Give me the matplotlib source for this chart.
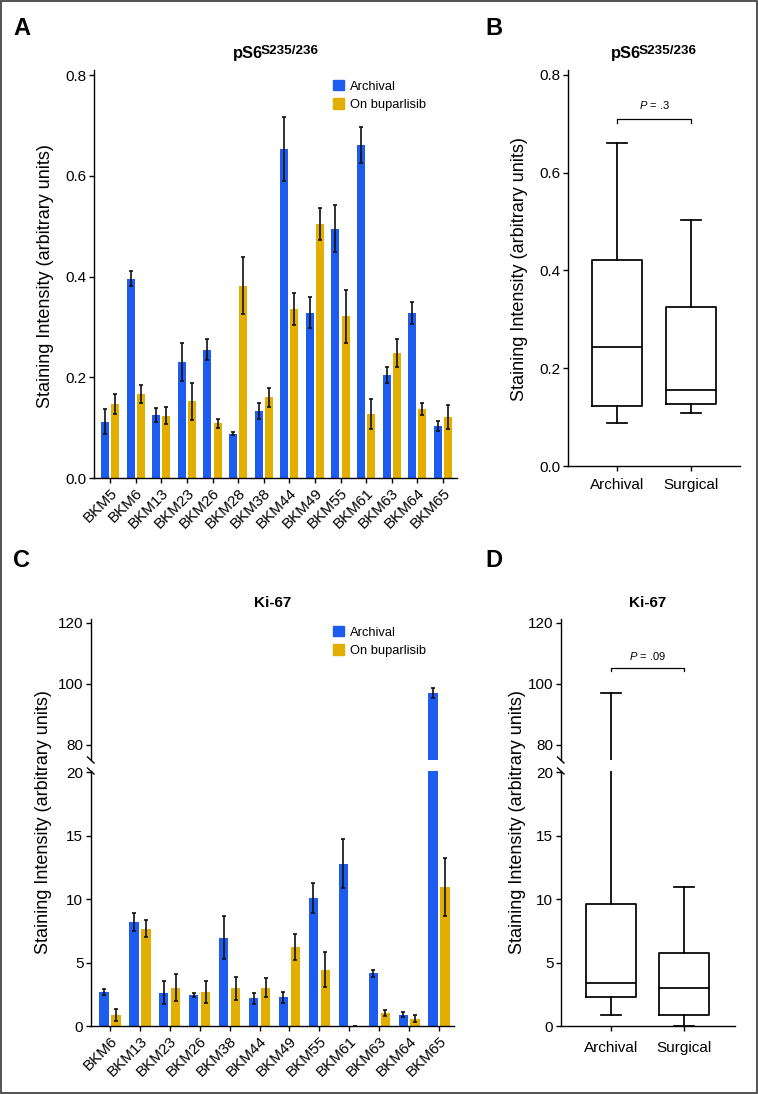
import numpy as np
import matplotlib
matplotlib.use("Agg")
import matplotlib.pyplot as plt
from matplotlib.lines import Line2D
from matplotlib.patches import Rectangle, Patch

plt.rcParams['font.family'] = ['Liberation Sans', 'DejaVu Sans']
plt.rcParams['mathtext.fontset'] = 'custom'
plt.rcParams['mathtext.rm'] = 'Liberation Sans'
plt.rcParams['mathtext.bf'] = 'Liberation Sans:bold'
plt.rcParams['mathtext.it'] = 'Liberation Sans:italic'

# ---------------- data ----------------
ps6_patients = ["BKM5", "BKM6", "BKM13", "BKM23", "BKM26", "BKM28", "BKM38",
                "BKM44", "BKM49", "BKM55", "BKM61", "BKM63", "BKM64", "BKM65"]
ps6_archival = [0.112, 0.396, 0.125, 0.230, 0.255, 0.088, 0.133,
                0.653, 0.328, 0.495, 0.661, 0.205, 0.327, 0.104]
ps6_archival_err = [0.024, 0.014, 0.014, 0.038, 0.020, 0.003, 0.015,
                    0.063, 0.031, 0.047, 0.036, 0.016, 0.022, 0.010]
ps6_bup = [0.147, 0.166, 0.124, 0.152, 0.109, 0.382, 0.160,
           0.336, 0.504, 0.321, 0.127, 0.248, 0.137, 0.121]
ps6_bup_err = [0.020, 0.018, 0.016, 0.037, 0.009, 0.056, 0.019,
               0.032, 0.032, 0.053, 0.030, 0.028, 0.012, 0.024]

ki_patients = ["BKM6", "BKM13", "BKM23", "BKM26", "BKM38", "BKM44",
               "BKM49", "BKM55", "BKM61", "BKM63", "BKM64", "BKM65"]
ki_archival = [2.68, 8.19, 2.62, 2.47, 6.96, 2.18, 2.26, 10.10, 12.78, 4.17, 0.89, 97.0]
ki_archival_err = [0.26, 0.70, 0.90, 0.15, 1.70, 0.42, 0.42, 1.20, 1.94, 0.27, 0.21, 1.5]
ki_bup = [0.84, 7.66, 3.02, 2.68, 2.97, 3.02, 6.22, 4.44, 0.0, 1.00, 0.58, 10.94]
ki_bup_err = [0.47, 0.68, 1.05, 0.84, 0.90, 0.76, 1.00, 1.36, 0.0, 0.23, 0.29, 2.30]

series_names = ["Archival", "On buparlisib"]
box_names = ["Archival", "Surgical"]
p_ps6 = ".3"
p_ki = ".09"

BLUE = "#1e5cf0"
GOLD = "#e2ae00"

W, H = 758, 1094
fig = plt.figure(figsize=(W / 100, H / 100), dpi=100)


def axes_px(left, top, right, bottom):
    return fig.add_axes([left / W, 1 - bottom / H, (right - left) / W, (bottom - top) / H])


def fpt(x, y):
    return x / W, 1 - y / H


TICK_FS = 11
LW = 1.0


def style(ax, bottom=True):
    for s in ["top", "right"]:
        ax.spines[s].set_visible(False)
    ax.spines["left"].set_linewidth(LW)
    ax.spines["bottom"].set_linewidth(LW)
    ax.tick_params(direction="out", length=3.5, width=LW, labelsize=TICK_FS, pad=2)
    if not bottom:
        ax.spines["bottom"].set_visible(False)
        ax.tick_params(axis="x", bottom=False, labelbottom=False)


def bars(ax, n, a, ae, b, be):
    x = np.arange(n)
    w = 0.31
    ax.bar(x - 0.2, a, w, color=BLUE, label=series_names[0], zorder=2)
    ax.bar(x + 0.2, b, w, color=GOLD, label=series_names[1], zorder=2)
    ax.errorbar(x - 0.2, a, yerr=ae, fmt="none", ecolor="#111111", elinewidth=1.2,
                capsize=1.6, capthick=1.2, zorder=3)
    ax.errorbar(x + 0.2, b, yerr=be, fmt="none", ecolor="#111111", elinewidth=1.2,
                capsize=1.6, capthick=1.2, zorder=3)


def box_stats(vals, label):
    v = np.asarray(vals, dtype=float)
    q1, med, q3 = np.percentile(v, [25, 50, 75], method="weibull")
    return dict(label=label, whislo=v.min(), q1=q1, med=med, q3=q3, whishi=v.max(), fliers=[])


def boxes(ax, stats):
    lp = dict(color="black", linewidth=1.25)
    ax.bxp(stats, positions=[1, 2], widths=0.68, capwidths=0.28, showfliers=False,
           boxprops=lp, medianprops=lp, whiskerprops=lp, capprops=lp)


def legend(ax, top_px):
    handles = [Patch(color=BLUE, label=series_names[0]), Patch(color=GOLD, label=series_names[1])]
    ax.legend(handles=handles, loc="upper left", bbox_to_anchor=fpt(333, top_px),
              bbox_transform=fig.transFigure, frameon=False, fontsize=9.3,
              handlelength=0.85, handleheight=0.85, handletextpad=0.45,
              labelspacing=0.45, borderpad=0, borderaxespad=0)


def ps6_title(ax, x_start):
    base = ax.text(*fpt(x_start, 58), "pS6", transform=fig.transFigure, ha="left",
                   va="baseline", fontsize=11.8, fontweight="bold")
    ax.annotate("S235/236", xy=(1, 0), xycoords=base, xytext=(-1.6, 2.6),
                textcoords="offset points", ha="left", va="bottom", fontsize=9.7,
                fontweight="bold", annotation_clip=False)


# ---------------- Panel A ----------------
axA = axes_px(94, 70, 457, 478)
bars(axA, len(ps6_patients), ps6_archival, ps6_archival_err, ps6_bup, ps6_bup_err)
axA.set_xlim(-0.63, 13.55)
axA.set_ylim(0, 0.81)
axA.set_yticks([0, 0.2, 0.4, 0.6, 0.8])
axA.set_yticklabels(["0.0", "0.2", "0.4", "0.6", "0.8"])
axA.set_xticks(np.arange(len(ps6_patients)))
axA.set_xticklabels(ps6_patients, rotation=45, ha="right", va="top", rotation_mode="anchor")
style(axA)
legend(axA, 80)
ps6_title(axA, 233)

# ---------------- Panel B ----------------
axB = axes_px(568, 70, 740, 466)
boxes(axB, [box_stats(ps6_archival, box_names[0]), box_stats(ps6_bup, box_names[1])])
axB.set_xlim(0.338, 2.662)
axB.set_ylim(0, 0.81)
axB.set_yticks([0, 0.2, 0.4, 0.6, 0.8])
axB.set_yticklabels(["0.0", "0.2", "0.4", "0.6", "0.8"])
axB.set_xticks([1, 2])
axB.set_xticklabels(box_names)
style(axB)
axB.tick_params(axis="x", pad=5)
yb = 0.709
axB.plot([1, 1, 2, 2], [yb - 0.007, yb, yb, yb - 0.007], color="black", lw=0.9)
axB.text(1.5, yb + 0.017, r"$\it{P}$ = " + p_ps6, ha="center", va="bottom", fontsize=8)
ps6_title(axB, 611)

# ---------------- Panel C (broken axis) ----------------
axCt = axes_px(91, 619, 454, 760)
axCb = axes_px(91, 771, 454, 1026)
n_ki = len(ki_patients)
for ax in (axCt, axCb):
    bars(ax, n_ki, ki_archival, ki_archival_err, ki_bup, ki_bup_err)
    ax.set_xlim(-0.635, 11.5)
axCt.set_ylim(75, 121.3)
axCt.set_yticks([80, 100, 120])
axCb.set_ylim(0, 20.1)
axCb.set_yticks([0, 5, 10, 15, 20])
axCb.set_xticks(np.arange(n_ki))
axCb.set_xticklabels(ki_patients, rotation=45, ha="right", va="top", rotation_mode="anchor")
style(axCt, bottom=False)
style(axCb)
legend(axCt, 626)

# ---------------- Panel D (broken axis) ----------------
axDt = axes_px(561, 619, 735, 760)
axDb = axes_px(561, 771, 735, 1026)
ki_stats = [box_stats(ki_archival, box_names[0]), box_stats(ki_bup, box_names[1])]
for ax in (axDt, axDb):
    boxes(ax, ki_stats)
    ax.set_xlim(0.318, 2.696)
axDt.set_ylim(75, 121.3)
axDt.set_yticks([80, 100, 120])
axDb.set_ylim(0, 20.1)
axDb.set_yticks([0, 5, 10, 15, 20])
axDb.set_xticks([1, 2])
axDb.set_xticklabels(box_names)
style(axDt, bottom=False)
style(axDb)
axDb.tick_params(axis="x", pad=7)
yd = 105.1
axDt.plot([1, 1, 2, 2], [yd - 0.8, yd, yd, yd - 0.8], color="black", lw=0.9)
axDt.text(1.5, yd + 2.2, r"$\it{P}$ = " + p_ki, ha="center", va="bottom", fontsize=8)

# break marks
for xs in (91, 561):
    for yc in (760, 771):
        x0, y0 = fpt(xs - 3.5, yc - 3)
        x1, y1 = fpt(xs + 3.0, yc + 3)
        fig.add_artist(Line2D([x0, x1], [y0, y1], color="black", lw=1.0))

# ---------------- titles, labels ----------------
fig.text(*fpt(272.5, 603), "Ki-67", ha="center", va="center", fontsize=11, fontweight="bold")
fig.text(*fpt(648, 603), "Ki-67", ha="center", va="center", fontsize=11, fontweight="bold")

ylab = "Staining Intensity (arbitrary units)"
for (xc, yc) in [(46, 276), (520, 269), (44, 822), (517, 822)]:
    fig.text(*fpt(xc, yc), ylab, rotation=90, ha="center", va="center", fontsize=13)

for (lx, ly, t) in [(13, 35, "A"), (485, 35, "B"), (13, 567, "C"), (485, 567, "D")]:
    fig.text(*fpt(lx, ly), t, ha="left", va="baseline", fontsize=17, fontweight="bold")

fig.add_artist(Rectangle(fpt(1, 1093), 756 / W, 1092 / H, transform=fig.transFigure,
                         fill=False, edgecolor="#444444", lw=1.3))

fig.savefig("out.png", dpi=100)
